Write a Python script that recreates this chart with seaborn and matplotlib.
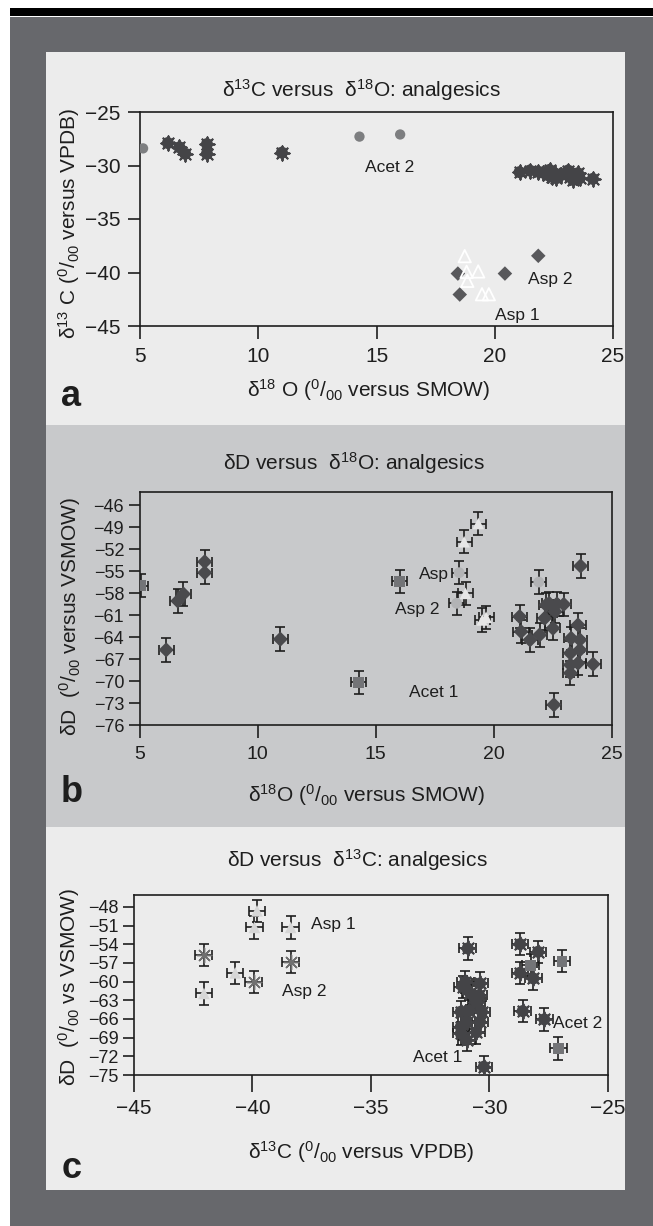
import numpy as np
import pandas as pd
import matplotlib
matplotlib.use("Agg")
import matplotlib.pyplot as plt
from matplotlib.patches import Rectangle
import seaborn as sns

# ---- panel a: d13C vs d18O ----
a_circ_x = [5.13, 14.28, 16.0]
a_circ_y = [-28.4, -27.3, -27.1]
a_star_x = [6.18, 6.67, 6.91, 7.83, 7.83, 11.0,
            21.05, 21.48, 21.83, 22.04, 22.32, 22.4, 22.53, 22.6, 22.82,
            23.1, 23.17, 23.31, 23.52, 23.59, 24.15, 23.45, 22.25]
a_star_y = [-27.9, -28.3, -28.9, -28.0, -28.9, -28.8,
            -30.62, -30.47, -30.57, -30.66, -30.41, -31.04, -30.72, -31.19, -30.88,
            -30.47, -31.04, -31.35, -30.72, -31.19, -31.25, -31.1, -30.9]
a_dia_x = [18.44, 18.52, 20.43, 21.84]
a_dia_y = [-40.1, -42.06, -40.1, -38.44]
a_tri_x = [18.73, 18.81, 18.84, 19.3, 19.46, 19.75]
a_tri_y = [-38.47, -39.94, -40.78, -39.9, -42.03, -42.03]
a_labels = ["Acet 2", "Asp 2", "Asp 1"]
a_lab_x = [15.56, 22.33, 20.95]
a_lab_y = [-30.2, -40.7, -44.0]

# ---- panel b: dD vs d18O ----
b_dia_x = [6.13, 6.62, 6.86, 7.76, 7.76, 10.96,
           21.09, 21.15, 21.53, 21.94, 22.21, 22.34, 22.15, 22.5, 22.59, 22.67,
           22.96, 22.54, 23.27, 23.24, 23.24, 23.24, 23.56, 23.64, 23.64, 23.56,
           23.67, 24.2]
b_dia_y = [-65.75, -59.07, -58.12, -53.72, -55.21, -64.29,
           -61.2, -63.25, -64.38, -63.7, -59.62, -59.4, -61.43, -62.8, -60.53, -59.48,
           -59.53, -73.24, -64.16, -66.2, -67.79, -68.92, -62.34, -64.38, -65.75, -67.56,
           -54.3, -67.7]
b_sq_x = [5.05, 14.27, 16.02]
b_sq_y = [-56.98, -70.19, -56.4]
b_circ_x = [18.53, 18.42, 21.9]
b_circ_y = [-55.21, -59.39, -56.49]
b_tri_x = [18.74, 19.34, 18.8, 19.51, 19.67]
b_tri_y = [-50.99, -48.5, -58.03, -61.66, -61.3]
b_xerr = 0.32
b_yerr = 1.6
b_labels = ["Asp", "Asp 2", "Acet 1"]
b_lab_x = [17.45, 16.75, 17.45]
b_lab_y = [-55.5, -60.2, -71.6]

# ---- panel c: dD vs d13C ----
c_tri_x = [-39.81, -39.92, -38.39, -40.73, -42.05]
c_tri_y = [-48.64, -51.3, -51.3, -58.6, -61.9]
c_ast_x = [-42.06, -39.95, -38.39]
c_ast_y = [-55.75, -60.03, -56.82]
c_star_x = [-30.92, -31.02, -31.13, -30.4, -30.81, -30.56, -30.44, -31.21, -30.85,
            -30.32, -31.21, -30.97, -30.4, -31.21, -30.56, -30.97, -30.24,
            -28.71, -27.95, -28.71, -28.15, -28.6, -27.69]
c_star_y = [-54.68, -60.03, -60.83, -60.3, -61.9, -63.24, -62.17, -64.84, -64.68,
            -64.84, -67.25, -66.45, -66.45, -68.32, -68.16, -69.39, -73.67,
            -53.99, -55.22, -58.59, -59.5, -64.74, -66.07]
c_sq_x = [-28.27, -26.94, -27.1]
c_sq_y = [-57.36, -56.72, -70.73]
c_xerr = 0.35
c_yerr = 1.8
c_labels = ["Asp 1", "Asp 2", "Acet 2", "Acet 1"]
c_lab_x = [-36.6, -37.8, -26.3, -32.2]
c_lab_y = [-50.9, -61.6, -66.7, -72.2]

sns.set_theme(style="ticks")
plt.rcParams["font.family"] = ["Liberation Sans", "DejaVu Sans"]
plt.rcParams["mathtext.fontset"] = "custom"
plt.rcParams["mathtext.rm"] = "Liberation Sans"
plt.rcParams["mathtext.it"] = "Liberation Sans:italic"
plt.rcParams["mathtext.bf"] = "Liberation Sans:bold"

W, H = 653, 1226
fig = plt.figure(figsize=(W / 100, H / 100), dpi=100)
fig.patch.set_facecolor("white")

DARK_BG = "#67686c"
LIGHT = "#ececec"
MID = "#c8c9cb"
DARK = "#444447"
INK = "#1e1e1e"


def rect(x0, y0, x1, y1, color):
    fig.add_artist(Rectangle((x0 / W, 1 - y1 / H), (x1 - x0) / W, (y1 - y0) / H,
                             transform=fig.transFigure, color=color, lw=0, zorder=-10))


def txt(x, y, s, **kw):
    fig.text(x / W, 1 - y / H, s, ha="center", va="center", color=INK, **kw)


def make_ax(l, t, r, b):
    ax = fig.add_axes([l / W, 1 - b / H, (r - l) / W, (b - t) / H])
    ax.set_facecolor("none")
    for sp in ax.spines.values():
        sp.set_visible(True)
        sp.set_color(INK)
        sp.set_linewidth(1.2)
    ax.tick_params(direction="out", length=9, width=1.2, colors=INK, pad=5)
    return ax


def star_blob(ax, xs, ys):
    # dark blob with short spikes, like the original cog-shaped symbol
    sns.scatterplot(x=xs, y=ys, marker="o", s=75, color=DARK, edgecolor="none", ax=ax, zorder=3)
    sns.scatterplot(x=xs, y=ys, marker=(8, 2, 0), s=105, color=DARK, linewidth=1.4, ax=ax, zorder=3)


rect(10, 17, W, H, DARK_BG)
rect(10, 8, W, 16, "black")
rect(46, 52, 625, 425, LIGHT)
rect(46, 425, 625, 827, MID)
rect(46, 827, 625, 1190, LIGHT)

# ---------------- panel a ----------------
ax = make_ax(140, 112, 613, 326)
sns.scatterplot(x=a_circ_x, y=a_circ_y, marker="o", s=55, color="#7d7e80", edgecolor="none", ax=ax, zorder=3)
star_blob(ax, a_star_x, a_star_y)
sns.scatterplot(x=a_dia_x, y=a_dia_y, marker="D", s=55, color="#58585b", edgecolor="none", ax=ax, zorder=3)
sns.scatterplot(x=a_tri_x, y=a_tri_y, marker="^", s=80, facecolor="none", edgecolor="white", linewidth=1.3, ax=ax, zorder=3)
for s, x, y in zip(a_labels, a_lab_x, a_lab_y):
    ax.text(x, y, s, ha="center", va="center", fontsize=12.5, color=INK)
ax.set_xlim(5, 25)
ax.set_ylim(-45, -25)
ax.set_xticks([5, 10, 15, 20, 25])
ax.set_yticks([-45, -40, -35, -30, -25])
ax.tick_params(labelsize=15)
ax.tick_params(axis="x", pad=6)

txt(361, 90, r"δ$^{13}$C versus  δ$^{18}$O: analgesics", fontsize=15)
txt(369, 390, r"δ$^{18}$ O ($^{0}$/$_{00}$ versus SMOW)", fontsize=15)
txt(69, 223, r"δ$^{13}$ C ($^{0}$/$_{00}$ versus VPDB)", fontsize=15, rotation=90)
txt(71, 397, "a", fontsize=26, fontweight="bold")

# ---------------- panel b ----------------
ax = make_ax(139.5, 492, 612, 725)
eb = dict(fmt="none", ecolor=INK, elinewidth=1.2, capsize=3.5, capthick=1.2, zorder=2)
for xs, ys in [(b_dia_x, b_dia_y), (b_sq_x, b_sq_y), (b_circ_x, b_circ_y), (b_tri_x, b_tri_y)]:
    ax.errorbar(xs, ys, xerr=b_xerr, yerr=b_yerr, **eb)
sns.scatterplot(x=b_dia_x, y=b_dia_y, marker="D", s=60, color="#4a4a4d", edgecolor="none", ax=ax, zorder=3)
sns.scatterplot(x=b_sq_x, y=b_sq_y, marker="s", s=60, color="#737477", edgecolor="none", ax=ax, zorder=3)
sns.scatterplot(x=b_circ_x, y=b_circ_y, marker="o", s=60, color="#b2b3b5", edgecolor="none", ax=ax, zorder=3)
sns.scatterplot(x=b_tri_x, y=b_tri_y, marker="^", s=70, color="#e6e6e6", edgecolor="none", ax=ax, zorder=3)
for s, x, y in zip(b_labels, b_lab_x, b_lab_y):
    ax.text(x, y, s, ha="center", va="center", fontsize=12.5, color=INK)
ax.set_xlim(5, 25)
ax.set_ylim(-76, -44.2)
ax.set_xticks([5, 10, 15, 20, 25])
ax.set_yticks(np.arange(-76, -45, 3))
ax.tick_params(axis="y", labelsize=13, length=8, pad=3)
ax.tick_params(axis="x", labelsize=14, pad=6)

txt(354, 463, r"δD versus  δ$^{18}$O: analgesics", fontsize=15)
txt(367, 795, r"δ$^{18}$O ($^{0}$/$_{00}$ versus SMOW)", fontsize=15)
txt(70, 617, r"δD  ($^{0}$/$_{00}$ versus VSMOW)", fontsize=15, rotation=90)
txt(72, 793, "b", fontsize=26, fontweight="bold")

# ---------------- panel c ----------------
ax = make_ax(134, 895, 608, 1075)
for xs, ys in [(c_tri_x, c_tri_y), (c_ast_x, c_ast_y), (c_star_x, c_star_y), (c_sq_x, c_sq_y)]:
    ax.errorbar(xs, ys, xerr=c_xerr, yerr=c_yerr, **eb)
sns.scatterplot(x=c_tri_x, y=c_tri_y, marker="^", s=70, color="#d6d6d6", edgecolor="none", ax=ax, zorder=3)
sns.scatterplot(x=c_ast_x, y=c_ast_y, marker=(8, 2, 0), s=110, color="#707070", linewidth=1.0, ax=ax, zorder=3)
star_blob(ax, c_star_x, c_star_y)
sns.scatterplot(x=c_sq_x, y=c_sq_y, marker="s", s=60, color="#737477", edgecolor="none", ax=ax, zorder=3)
for s, x, y in zip(c_labels, c_lab_x, c_lab_y):
    ax.text(x, y, s, ha="center", va="center", fontsize=12.5, color=INK)
ax.set_xlim(-45, -25)
ax.set_ylim(-75, -46.1)
ax.set_xticks([-45, -40, -35, -30, -25])
ax.set_yticks(np.arange(-75, -47, 3))
ax.tick_params(axis="y", labelsize=13, length=8, pad=3)
ax.tick_params(axis="x", labelsize=15, length=12, pad=5)

txt(357, 860, r"δD versus  δ$^{13}$C: analgesics", fontsize=15)
txt(361, 1152, r"δ$^{13}$C ($^{0}$/$_{00}$ versus VPDB)", fontsize=15)
txt(69, 987, r"δD  ($^{0}$/$_{00}$ vs VSMOW)", fontsize=15, rotation=90)
txt(72, 1168, "c", fontsize=26, fontweight="bold")

fig.savefig("out.png", dpi=100)
